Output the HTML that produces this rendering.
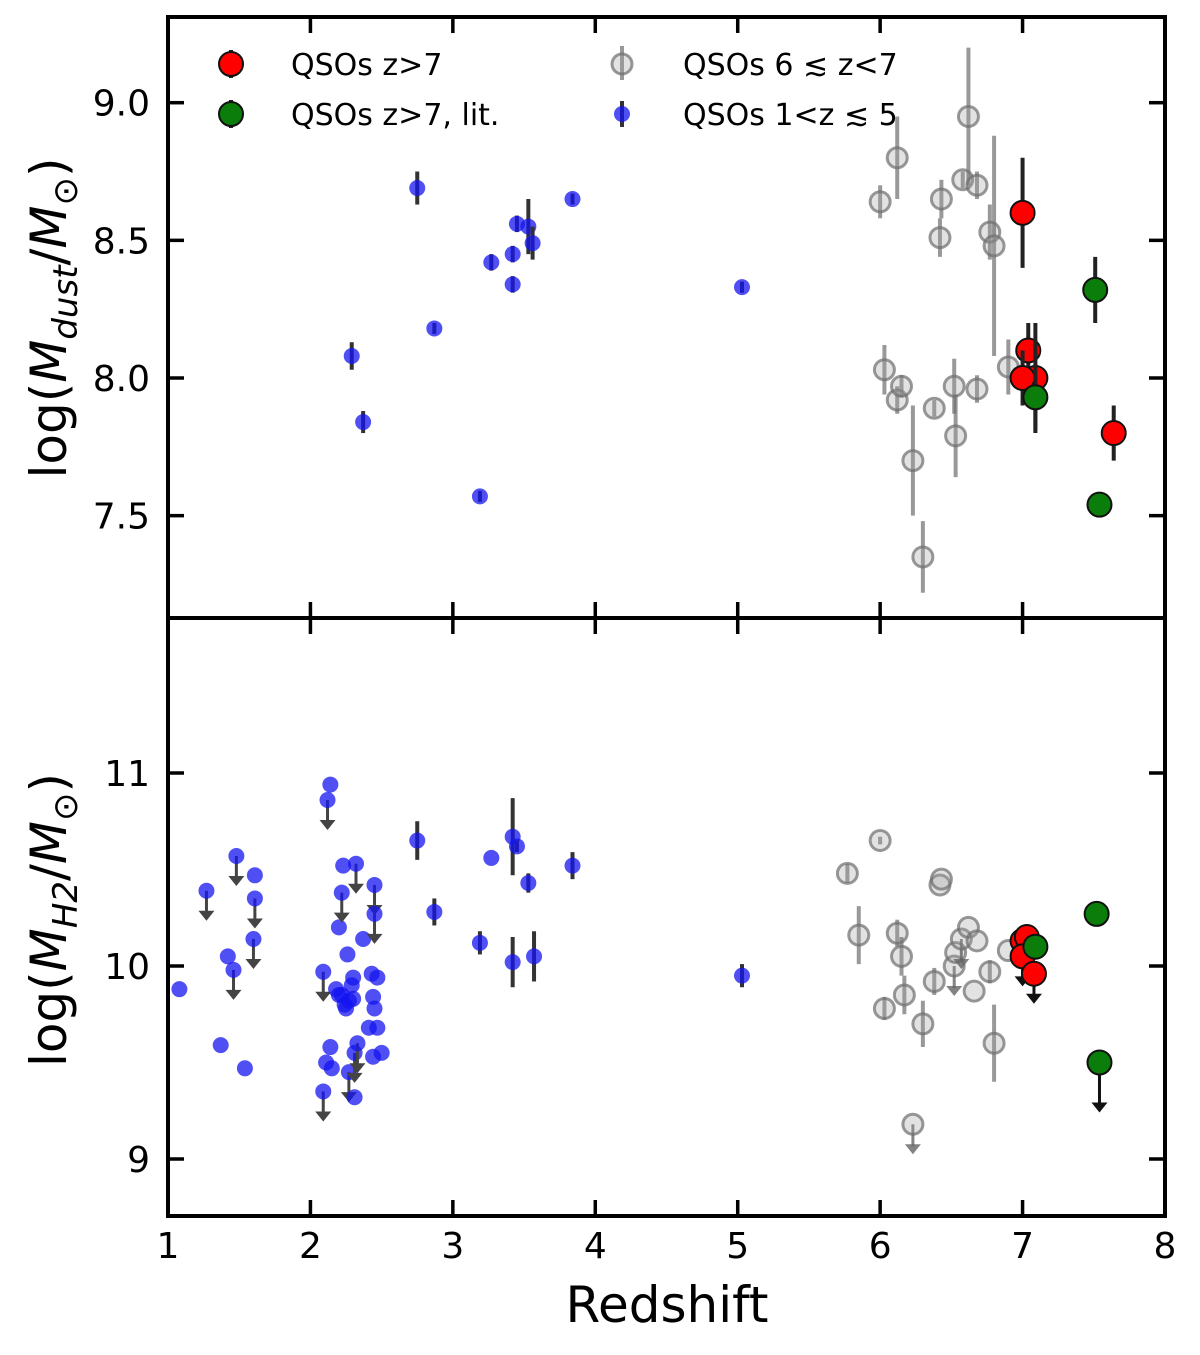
<!DOCTYPE html>
<html><head><meta charset="utf-8"><style>
body{margin:0;background:#fff}
svg{display:block;font-family:"DejaVu Sans","Liberation Sans",sans-serif}
</style></head><body>
<svg id="c" width="1200" height="1355" viewBox="0 0 1200 1355"></svg>
<script>
// ---- data ----
const topBlueZ=[2.29,2.37,2.75,2.87,3.19,3.27,3.42,3.42,3.45,3.53,3.56,3.84,5.03];
const topBlueV=[8.08,7.84,8.69,8.18,7.57,8.42,8.45,8.34,8.56,8.55,8.49,8.65,8.33];
const topBlueE=[0.05,0.04,0.06,0.02,0.02,0.03,0.03,0.03,0.03,0.1,0.06,0.02,0.02];
const topGrayZ=[6.0,6.12,6.43,6.42,6.58,6.62,6.68,6.77,6.8,6.03,6.12,6.15,6.23,6.3,6.38,6.52,6.53,6.68,6.9];
const topGrayV=[8.64,8.8,8.65,8.51,8.72,8.95,8.70,8.53,8.48,8.03,7.92,7.97,7.70,7.35,7.89,7.97,7.79,7.96,8.04];
const topGrayE=[0.06,0.15,0.07,0.07,0.03,0.25,0.05,0.1,0.4,0.09,0.05,0.04,0.2,0.13,0.03,0.1,0.15,0.05,0.1];
const topRedZ=[7.0,7.04,7.09,7.0,7.64];
const topRedV=[8.6,8.1,8.0,8.0,7.8];
const topRedE=[0.2,0.1,0.2,0.1,0.1];
const topGreenZ=[7.51,7.09,7.54];
const topGreenV=[8.32,7.93,7.54];
const topGreenE=[0.12,0.12,0.02];

const botBlueZ=[1.08,1.27,1.37,1.42,1.46,1.48,1.54,1.6,1.61,1.61,2.09,2.09,2.11,2.12,2.14,2.14,2.15,2.18,2.2,2.22,2.23,2.22,2.24,2.26,2.27,2.29,2.3,2.31,2.32,2.31,2.33,2.37,2.41,2.43,2.44,2.44,2.45,2.45,2.45,2.47,2.47,2.5,2.25,2.27,2.2,2.3,2.75,2.87,3.19,3.27,3.42,3.42,3.45,3.53,3.57,3.84,5.03];
const botBlueV=[9.88,10.39,9.59,10.05,9.98,10.57,9.47,10.14,10.35,10.47,9.97,9.35,9.5,10.86,10.94,9.58,9.47,9.88,10.2,10.38,10.52,9.85,9.8,10.06,9.45,9.9,9.94,9.55,10.53,9.32,9.6,10.14,9.68,9.96,9.53,9.84,9.78,10.42,10.27,9.68,9.94,9.55,9.78,9.82,9.85,9.83,10.65,10.28,10.12,10.56,10.02,10.67,10.62,10.43,10.05,10.52,9.95];
const botBlueE=[0,0,0,0,0,0,0,0,0,0,0,0,0,0,0,0,0,0,0,0,0,0,0,0,0,0,0,0,0,0,0,0,0,0,0,0,0,0,0,0,0,0,0,0,0,0,0.1,0.07,0.06,0,0.13,0.2,0.03,0.05,0.13,0.07,0.06];
const botBlueL=[0,1,0,0,1,1,0,1,1,0,1,1,0,1,0,0,0,0,0,1,0,0,0,0,1,0,0,1,1,0,1,0,0,0,0,0,0,1,1,0,0,0,0,0,0,0,0,0,0,0,0,0,0,0,0,0,0];
const botGrayZ=[5.77,5.85,6.0,6.03,6.12,6.15,6.17,6.3,6.23,6.38,6.42,6.43,6.52,6.53,6.57,6.62,6.66,6.68,6.77,6.8,6.9];
const botGrayV=[10.48,10.16,10.65,9.78,10.17,10.05,9.85,9.7,9.18,9.92,10.42,10.45,10.0,10.07,10.14,10.2,9.87,10.13,9.97,9.6,10.08];
const botGrayE=[0.05,0.15,0.02,0.06,0.07,0.1,0.1,0.12,0,0.07,0,0,0,0,0,0,0,0,0.06,0.2,0];
const botGrayL=[0,0,0,0,0,0,0,0,1,0,0,0,1,0,1,0,0,0,0,0,0];
const botRedZ=[7.0,7.03,7.0,7.08];
const botRedV=[10.13,10.15,10.05,9.96];
const botRedL=[0,0,1,1];
const botGreenZ=[7.52,7.09,7.54];
const botGreenV=[10.27,10.1,9.5];
const botGreenL=[0,0,1];

const xTicks=[1,2,3,4,5,6,7,8];
const topYTicks=[7.5,8.0,8.5,9.0];
const botYTicks=[9,10,11];

// ---- layout ----
const NS="http://www.w3.org/2000/svg";
const svg=document.getElementById('c');
const L=168,R=1165;
const X=z=>L+(z-1)*(R-L)/7;
const topY=v=>378-(v-8)*275.3;
const botY=v=>966-(v-10)*193;
function el(tag,attrs,parent){const e=document.createElementNS(NS,tag);for(const k in attrs)e.setAttribute(k,attrs[k]);(parent||svg).appendChild(e);return e;}

function series(zs,vs,es,ls,Y,style,name,arrowLen){
  const g=el('g',{});
  
  
  zs.forEach((z,i)=>{
    const x=X(z),y=Y(vs[i]);
    const e=es?es[i]:0;
    if(e>0){el('line',{x1:x,x2:x,y1:Y(vs[i]+e),y2:Y(vs[i]-e),stroke:style.err,'stroke-width':4},g);}
    if(ls&&ls[i]){
      const yb=y+arrowLen;
      el('line',{x1:x,x2:x,y1:y,y2:yb-8,stroke:style.arrow,'stroke-width':3},g);
      el('path',{d:`M${x-8},${yb-10} L${x+8},${yb-10} L${x},${yb} Z`,fill:style.arrow},g);
    }
    const c=el('circle',{cx:x,cy:y,r:style.r,fill:style.fill,stroke:style.stroke,'stroke-width':style.sw},g);
    
    
  });
}
const sBlue={r:8,fill:'rgba(20,20,240,0.75)',stroke:'none',sw:0,err:'#333',arrow:'#444'};
const sGray={r:10,fill:'rgba(160,160,160,0.3)',stroke:'rgba(110,110,110,0.7)',sw:3,err:'rgba(110,110,110,0.7)',arrow:'rgba(100,100,100,0.8)'};
const sRed={r:12,fill:'#f00',stroke:'#111',sw:2,err:'#222',arrow:'#111'};
const sGreen={r:12,fill:'#0a7d0a',stroke:'#111',sw:2,err:'#222',arrow:'#111'};

function panel(y0,y1,Y,yt,name,fmt){
  const g=el('g',{});
  
  
  xTicks.forEach(t=>{
    el('line',{x1:X(t),x2:X(t),y1:y1,y2:y1-16,stroke:'#000','stroke-width':3.5},g);
    el('line',{x1:X(t),x2:X(t),y1:y0,y2:y0+16,stroke:'#000','stroke-width':3.5},g);
  });
  yt.forEach(t=>{
    const y=Y(t);
    el('line',{x1:L,x2:L+16,y1:y,y2:y,stroke:'#000','stroke-width':3.5},g);
    el('line',{x1:R,x2:R-16,y1:y,y2:y,stroke:'#000','stroke-width':3.5},g);
    const tx=el('text',{x:L-18,y:y+13,'text-anchor':'end','font-size':36},g);
    tx.textContent=fmt(t);
    
    
  });
}
panel(17,618,topY,topYTicks,'top-panel',t=>t.toFixed(1));
panel(618,1216,botY,botYTicks,'bottom-panel',t=>String(t));

series(topBlueZ,topBlueV,topBlueE,null,topY,sBlue,'top-blue',0);
series(topGrayZ,topGrayV,topGrayE,null,topY,sGray,'top-gray',0);
series(topRedZ,topRedV,topRedE,null,topY,sRed,'top-red',0);
series(topGreenZ,topGreenV,topGreenE,null,topY,sGreen,'top-green',0);

series(botBlueZ,botBlueV,botBlueE,botBlueL,botY,sBlue,'bottom-blue',30);
series(botGrayZ,botGrayV,botGrayE,botGrayL,botY,sGray,'bottom-gray',30);
series(botRedZ,botRedV,null,botRedL,botY,sRed,'bottom-red',30);
series(botGreenZ,botGreenV,null,botGreenL,botY,sGreen,'bottom-green',50);

el('rect',{x:L,y:17,width:R-L,height:1199,fill:'none',stroke:'#000','stroke-width':4});
el('line',{x1:L,x2:R,y1:618,y2:618,stroke:'#000','stroke-width':4});

xTicks.forEach(t=>{
  const tx=el('text',{x:X(t),y:1258,'text-anchor':'middle','font-size':36});
  tx.textContent=t;
  
  
});
</script>
<svg width="1200" height="1355" style="position:absolute;left:0;top:0">
<text x="667" y="1322" text-anchor="middle" font-size="50" font-family="DejaVu Sans,sans-serif">Redshift</text>
<text transform="translate(66,318) rotate(-90)" text-anchor="middle" font-size="50" font-family="DejaVu Sans,sans-serif">log(<tspan font-style="italic">M</tspan><tspan font-style="italic" font-size="34" dy="11">dust</tspan><tspan dy="-11">/</tspan><tspan font-style="italic">M</tspan><tspan font-size="34" dy="11">⊙</tspan><tspan dy="-11">)</tspan></text>
<text transform="translate(66,920) rotate(-90)" text-anchor="middle" font-size="50" font-family="DejaVu Sans,sans-serif">log(<tspan font-style="italic">M</tspan><tspan font-style="italic" font-size="34" dy="11">H2</tspan><tspan dy="-11">/</tspan><tspan font-style="italic">M</tspan><tspan font-size="34" dy="11">⊙</tspan><tspan dy="-11">)</tspan></text>
<g font-size="30" font-family="DejaVu Sans,sans-serif">
 <g><line x1="231" x2="231" y1="50" y2="78" stroke="#222" stroke-width="4"/><circle cx="231" cy="64" r="12" fill="#f00" stroke="#111" stroke-width="2"/><text x="291" y="75">QSOs z&gt;7</text></g>
 <g><line x1="231" x2="231" y1="100" y2="128" stroke="#222" stroke-width="4"/><circle cx="231" cy="114" r="12" fill="#0a7d0a" stroke="#111" stroke-width="2"/><text x="291" y="125">QSOs z&gt;7, lit.</text></g>
 <g><line x1="622" x2="622" y1="46" y2="80" stroke="rgba(110,110,110,0.7)" stroke-width="4"/><circle cx="622" cy="64" r="10" fill="rgba(160,160,160,0.3)" stroke="rgba(110,110,110,0.7)" stroke-width="3"/><text x="683" y="75">QSOs 6 ≲ z&lt;7</text></g>
 <g><line x1="622" x2="622" y1="101" y2="127" stroke="#333" stroke-width="4"/><circle cx="622" cy="114" r="8" fill="rgba(20,20,240,0.75)"/><text x="683" y="125">QSOs 1&lt;z ≲ 5</text></g>
</g>
</svg>
</body></html>
